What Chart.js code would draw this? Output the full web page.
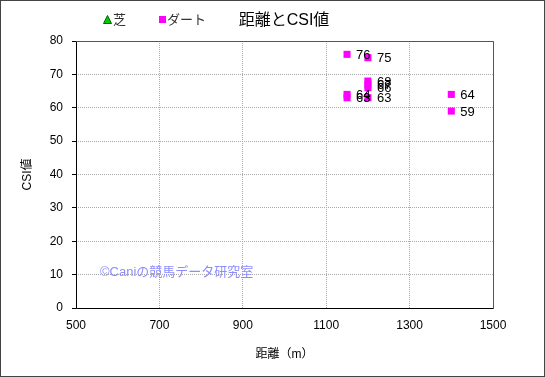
<!DOCTYPE html>
<html>
<head>
<meta charset="utf-8">
<script src="https://cdn.jsdelivr.net/npm/chart.js@4/dist/chart.umd.min.js"></script>
<style>
html,body{margin:0;padding:0;background:#fff;}
#wrap{width:545px;height:377px;position:relative;}
</style>
</head>
<body>
<div id="wrap"><canvas id="c"></canvas></div>
<script>
const chartTitle = "距離とCSI値";
const xAxisTitle = "距離（m）";
const yAxisTitle = "CSI値";
const watermark = "©Caniの競馬データ研究室";
const seriesNames = ["芝", "ダート"];
const turfDistance = [];
const turfCSI = [];
const dirtDistance = [1150, 1200, 1200, 1200, 1200, 1200, 1150, 1150, 1400, 1400];
const dirtCSI      = [76,   75,   67,   68,   66,   63,   63,   64,   64,   59];
const xMin = 500, xMax = 1500, xStep = 200;
const yMin = 0, yMax = 80, yStep = 10;

const FONT = "'Liberation Sans', Arial, 'Noto Sans CJK JP', sans-serif";
const MAG = "#ff00ff";
const GRN = "#00cc00";

const decor = {
  id: 'decor',
  beforeDatasetsDraw(chart) {
    const {ctx, chartArea: a} = chart;
    ctx.save();
    ctx.lineWidth = 1;
    ctx.setLineDash([]);
    ctx.strokeStyle = '#555';
    ctx.beginPath();
    ctx.moveTo(a.left + 0.5, a.top + 0.5);
    ctx.lineTo(a.right + 0.5, a.top + 0.5);
    ctx.lineTo(a.right + 0.5, a.bottom + 0.5);
    ctx.stroke();
    ctx.strokeStyle = '#000';
    ctx.beginPath();
    ctx.moveTo(a.left + 0.5, a.top + 0.5);
    ctx.lineTo(a.left + 0.5, a.bottom + 0.5);
    ctx.lineTo(a.right + 0.5, a.bottom + 0.5);
    ctx.stroke();
    ctx.restore();
  },
  afterDatasetsDraw(chart) {
    const {ctx} = chart;
    ctx.save();
    ctx.setLineDash([]);
    ctx.font = "13px " + FONT;
    ctx.fillStyle = '#000';
    ctx.textBaseline = 'middle';
    ctx.textAlign = 'left';
    chart.data.datasets.forEach((ds, di) => {
      const meta = chart.getDatasetMeta(di);
      meta.data.forEach((el, i) => {
        ctx.fillText(String(ds.data[i].y), el.x + 9, el.y + 1);
      });
    });
    ctx.font = "13px " + FONT;
    ctx.fillStyle = '#8c8cff';
    ctx.fillText(watermark, 100, 272);
    ctx.fillStyle = '#000';
    ctx.font = "16px " + FONT;
    ctx.textAlign = 'center';
    ctx.fillText(chartTitle, 284, 21);
    ctx.textAlign = 'left';
    ctx.font = "13px " + FONT;
    ctx.fillStyle = GRN;
    ctx.strokeStyle = '#006600';
    ctx.beginPath();
    ctx.moveTo(107.5, 15.5);
    ctx.lineTo(111.5, 23.5);
    ctx.lineTo(103.5, 23.5);
    ctx.closePath();
    ctx.fill();
    ctx.stroke();
    ctx.fillStyle = '#333';
    ctx.fillText(seriesNames[0], 113, 20);
    ctx.fillStyle = MAG;
    ctx.fillRect(159, 16, 7, 7);
    ctx.fillStyle = '#333';
    ctx.fillText(seriesNames[1], 167, 20);
    ctx.strokeStyle = '#444';
    ctx.lineWidth = 1;
    ctx.strokeRect(0.5, 0.5, 544, 376);
    ctx.restore();
  }
};

const toPts = (xs, ys) => xs.map((x, i) => ({x, y: ys[i]}));

new Chart(document.getElementById('c'), {
  type: 'scatter',
  data: {
    datasets: [
      { label: seriesNames[0], data: toPts(turfDistance, turfCSI), pointStyle: 'triangle',
        backgroundColor: GRN, borderColor: GRN, pointRadius: 5, pointHoverRadius: 5 },
      { label: seriesNames[1], data: toPts(dirtDistance, dirtCSI), pointStyle: 'rect',
        backgroundColor: MAG, borderColor: MAG, borderWidth: 0, pointRadius: 5, pointHoverRadius: 5 }
    ]
  },
  options: {
    responsive: true,
    maintainAspectRatio: false,
    animation: false,
    events: [],
    layout: { padding: { top: 41, right: 52, left: 0, bottom: 0 } },
    plugins: { legend: { display: false }, title: { display: false }, tooltip: { enabled: false } },
    scales: {
      x: {
        type: 'linear', min: xMin, max: xMax,
        afterFit(s) { s.height = 69; },
        ticks: { stepSize: xStep, color: '#000', font: { size: 12, family: FONT }, padding: 10, maxRotation: 0,
                 callback: v => String(v) },
        grid: { color: '#aaa', drawTicks: false, lineWidth: 1, borderDash: [1, 1] },
        border: { display: false, dash: [1, 1] },
        title: { display: true, text: xAxisTitle, color: '#000', font: { size: 12, family: FONT }, padding: { top: 0, bottom: 15 } }
      },
      y: {
        min: yMin, max: yMax,
        afterFit(s) { s.width = 76; },
        ticks: { stepSize: yStep, color: '#000', font: { size: 12, family: FONT }, padding: 9,
                 callback: v => String(v) },
        grid: { color: '#aaa', drawTicks: true, tickLength: 4, tickColor: '#000', tickBorderDash: [], lineWidth: 1, borderDash: [1, 1] },
        border: { display: false, dash: [1, 1] },
        title: { display: true, text: yAxisTitle, color: '#000', font: { size: 12, family: FONT }, padding: { top: 20, bottom: 0 } }
      }
    }
  },
  plugins: [decor]
});
</script>
</body>
</html>
